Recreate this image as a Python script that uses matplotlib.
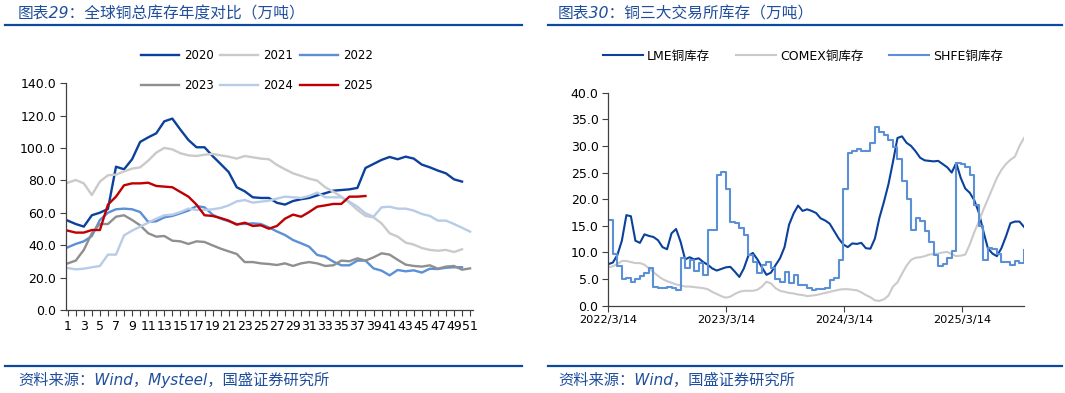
import matplotlib
matplotlib.use("Agg")
import matplotlib.pyplot as plt
from matplotlib.lines import Line2D
from matplotlib.ticker import FormatStrFormatter
import pandas as pd

plt.rcParams['font.family'] = ['DejaVu Sans', 'Noto Sans CJK SC']

# ---- chart 29 : stock total par semaine
weeks = list(range(1, 52))
y2020 = [55.2, 53.1, 51.5, 58.5, 60.1, 62.4, 88.5, 86.9, 93.1, 103.8, 106.6, 109.1, 116.5, 118.2, 111.4,
         105.0, 100.5, 100.5, 95.1, 90.2, 85.2, 75.8, 73.3, 69.6, 69.2, 69.2, 66.2, 65.1, 67.3, 68.4,
         69.2, 70.8, 72.1, 73.7, 74.1, 74.5, 75.4, 87.7, 90.2, 92.7, 94.5, 93.1, 94.7, 93.5, 89.8,
         88.1, 86.1, 84.4, 80.7, 79.3]
y2021 = [78.6, 80.3, 78.2, 71.0, 79.3, 83.2, 83.6, 85.6, 87.3, 88.1, 92.2, 97.2, 100.1, 99.2, 96.8,
         95.5, 95.1, 95.9, 96.4, 95.5, 94.7, 93.5, 95.1, 94.3, 93.5, 93.1, 89.6, 86.9, 84.4, 82.8,
         81.1, 79.9, 75.8, 73.1, 70.0, 66.3, 61.8, 58.1, 57.2, 53.5, 47.4, 45.3, 41.6, 40.4, 38.3,
         37.1, 36.6, 37.1, 35.8, 37.5]
y2022 = [38.7, 40.8, 42.4, 45.7, 55.6, 60.1, 62.2, 62.6, 62.2, 60.5, 54.4, 54.8, 57.2, 58.1, 59.7,
         61.4, 64.2, 63.4, 58.9, 56.4, 54.8, 53.1, 53.1, 53.5, 53.1, 51.0, 48.5, 46.3, 43.2, 41.2,
         39.1, 34.0, 32.9, 29.9, 27.6, 27.6, 30.5, 30.5, 25.7, 24.3, 21.4, 24.7, 23.9, 24.5, 23.1,
         25.5, 25.3, 26.1, 26.4, 26.4]
y2023 = [28.8, 30.5, 37.1, 47.4, 53.1, 53.1, 57.6, 58.5, 55.6, 52.3, 47.4, 45.3, 45.7, 42.8, 42.4,
         40.8, 42.4, 42.0, 39.9, 37.9, 36.2, 34.6, 29.6, 29.6, 28.8, 28.4, 27.8, 28.8, 27.2, 28.8,
         29.6, 28.8, 27.2, 27.6, 30.5, 30.1, 31.9, 30.5, 32.5, 35.0, 34.2, 31.0, 28.0, 27.2, 26.8,
         27.6, 25.5, 26.8, 27.2, 24.9, 25.7]
y2024 = [25.9, 25.1, 25.5, 26.4, 27.2, 34.2, 34.2, 46.1, 49.0, 51.5, 53.9, 56.4, 58.5, 58.9, 60.5,
         62.6, 61.8, 61.8, 62.2, 63.0, 64.6, 67.1, 67.9, 66.3, 66.9, 67.5, 68.8, 70.0, 69.6, 69.2,
         70.4, 72.5, 69.6, 69.6, 69.6, 66.9, 63.8, 59.7, 57.6, 63.4, 63.8, 62.6, 62.6, 61.4, 59.3,
         58.1, 55.2, 55.2, 53.1, 50.8, 48.4]
y2025 = [49.0, 47.8, 47.8, 49.4, 49.4, 65.1, 70.0, 77.0, 78.2, 78.2, 78.6, 76.6, 76.2, 75.8, 72.9,
         70.0, 65.1, 58.5, 58.1, 56.8, 55.2, 52.7, 53.9, 51.9, 52.3, 50.2, 51.9, 56.4, 58.9, 57.6,
         60.5, 63.8, 64.6, 65.5, 65.5, 70.0, 70.0, 70.4]

series29 = [("2020", y2020, "#0B419B"), ("2021", y2021, "#CACACA"), ("2022", y2022, "#5B8FD6"),
            ("2023", y2023, "#8F8F8F"), ("2024", y2024, "#B8CBE8"), ("2025", y2025, "#C00000")]

# ---- chart 30 : stocks des trois bourses (un point toutes les 2 semaines)
dates = pd.date_range("2022-03-14", periods=93, freq="14D")
lme = [7.8, 8.1, 9.5, 12.2, 17.0, 16.8, 12.2, 11.8, 13.4, 13.1,
       12.9, 12.3, 11.0, 10.6, 13.6, 14.4, 12.0, 8.7, 9.1, 8.7,
       8.9, 8.2, 7.7, 7.0, 6.6, 6.9, 7.2, 7.3, 6.4, 5.4,
       7.0, 9.4, 9.9, 8.7, 7.2, 5.8, 6.2, 7.6, 8.9, 11.0,
       15.2, 17.3, 18.8, 17.8, 18.1, 17.8, 17.4, 16.4, 16.0, 15.4,
       14.0, 12.6, 11.5, 11.0, 11.7, 11.6, 11.8, 10.8, 10.7, 12.6,
       16.5, 19.5, 22.8, 27.0, 31.5, 31.8, 30.6, 30.0, 29.0, 27.8,
       27.3, 27.2, 27.1, 27.2, 26.6, 26.0, 25.0, 26.8, 24.0, 22.0,
       21.2, 19.8, 17.5, 14.0, 10.8, 9.8, 9.3, 10.8, 13.0, 15.5,
       15.8, 15.8, 14.8]
comex = [7.2, 7.4, 7.8, 8.4, 8.4, 8.2, 8.0, 8.0, 7.7, 7.0,
         6.3, 5.6, 5.0, 4.6, 4.3, 4.0, 3.8, 3.6, 3.6, 3.5,
         3.4, 3.3, 3.1, 2.6, 2.2, 1.8, 1.5, 1.7, 2.2, 2.6,
         2.8, 2.8, 2.8, 3.0, 3.6, 4.5, 4.2, 3.3, 2.8, 2.6,
         2.4, 2.3, 2.1, 2.0, 1.8, 1.9, 2.0, 2.2, 2.4, 2.6,
         2.8, 3.0, 3.1, 3.1, 3.0, 2.9, 2.5, 2.0, 1.6, 1.0,
         0.9, 1.2, 1.9, 3.6, 4.4, 6.0, 7.5, 8.6, 9.0, 9.1,
         9.3, 9.6, 9.7, 9.8, 10.0, 10.1, 9.7, 9.3, 9.4, 9.6,
         11.5, 13.8, 15.8, 18.0, 20.0, 22.0, 24.0, 25.5, 26.6, 27.4,
         28.0, 30.0, 31.5]
shfe = [16.1, 9.8, 7.4, 5.0, 5.2, 4.4, 5.0, 5.5, 6.1, 7.1,
        3.6, 3.4, 3.3, 3.6, 3.4, 3.0, 9.0, 7.0, 8.5, 6.5,
        8.0, 5.8, 14.3, 14.3, 24.5, 25.2, 22.0, 15.8, 15.5, 14.6,
        13.3, 9.6, 8.3, 6.1, 7.7, 8.3, 7.0, 5.0, 4.5, 6.4,
        4.3, 5.8, 3.9, 3.8, 3.3, 3.0, 3.2, 3.2, 3.4, 4.8,
        5.2, 8.6, 22.0, 28.7, 29.0, 29.5, 29.0, 29.0, 30.5, 33.5,
        32.6, 32.0, 31.2, 29.8, 27.5, 23.5, 20.0, 14.3, 16.5, 16.0,
        14.0, 12.0, 9.6, 7.4, 7.8, 9.0, 10.2, 26.8, 26.7, 26.0,
        24.5, 19.0, 15.0, 8.5, 10.8, 10.6, 9.8, 8.3, 8.2, 7.6,
        8.4, 8.1, 10.5]
xtick_dates = ["2022-03-14", "2023-03-14", "2024-03-14", "2025-03-14"]

blue_txt = "#1F4E9C"
W, H = 1065, 393

fig = plt.figure(figsize=(W / 100, H / 100), dpi=100)


def hline(x0, x1, y):
    fig.add_artist(Line2D([x0 / W, x1 / W], [1 - y / H, 1 - y / H], color="#0B4A9E", lw=1.6))


def style_axis(ax):
    for s in ["top", "right"]:
        ax.spines[s].set_visible(False)
    for s in ["left", "bottom"]:
        ax.spines[s].set_color("#404040")
        ax.spines[s].set_linewidth(0.9)
    ax.tick_params(direction="out", length=4, width=0.8, color="#404040", labelsize=9, pad=3)
    ax.yaxis.set_major_formatter(FormatStrFormatter("%.1f"))


# titres et filets
fig.text(18 / W, 1 - 14 / H, "图表29：全球铜总库存年度对比（万吨）", color=blue_txt, fontsize=11.3,
         style="italic", va="center")
fig.text(558 / W, 1 - 14 / H, "图表30：铜三大交易所库存（万吨）", color=blue_txt, fontsize=11.3,
         style="italic", va="center")
hline(5, 522, 25)
hline(548, 1062, 25)
hline(5, 522, 366)
hline(548, 1062, 366)
fig.text(18 / W, 1 - 380 / H, "资料来源：Wind，Mysteel，国盛证券研究所", color=blue_txt, fontsize=11,
         style="italic", va="center")
fig.text(558 / W, 1 - 380 / H, "资料来源：Wind，国盛证券研究所", color=blue_txt, fontsize=11,
         style="italic", va="center")

# ---- gauche
ax1 = fig.add_axes([65.7 / W, 1 - 310 / H, (473.3 - 65.7) / W, (310 - 83.3) / H])
handles = {}
for name, vals, col in series29:
    h, = ax1.plot(weeks[:len(vals)], vals, color=col, lw=1.7, label=name)
    handles[name] = h
ax1.set_xlim(0.75, 51.4)
ax1.set_ylim(0, 140)
ax1.set_yticks(range(0, 141, 20))
ax1.set_xticks(weeks)
ax1.set_xticklabels([str(w) if w % 2 == 1 else "" for w in weeks])
style_axis(ax1)
order = ["2020", "2023", "2021", "2024", "2022", "2025"]
fig.legend([handles[n] for n in order], order, ncol=3, loc="center",
           bbox_to_anchor=(257 / W, 1 - 70.5 / H), frameon=False, fontsize=8.5,
           handlelength=3.2, handletextpad=0.45, columnspacing=0.55, labelspacing=1.45,
           borderpad=0, borderaxespad=0)

# ---- droite
ax2 = fig.add_axes([608.3 / W, 1 - 305.7 / H, (1024 - 608.3) / W, (305.7 - 92.7) / H])
l1, = ax2.plot(dates, lme, color="#0B419B", lw=1.5, label="LME铜库存")
l2, = ax2.plot(dates, comex, color="#CACACA", lw=1.5, label="COMEX铜库存")
l3, = ax2.plot(dates, shfe, color="#5B8FD6", lw=1.5, drawstyle="steps-post", label="SHFE铜库存")
ax2.set_xlim(dates[0], dates[-1])
ax2.set_ylim(0, 40)
ax2.set_yticks(range(0, 41, 5))
ax2.set_xticks(pd.to_datetime(xtick_dates))
ax2.set_xticklabels([d.strftime("%Y/") + str(d.month) + d.strftime("/%d") for d in pd.to_datetime(xtick_dates)])
style_axis(ax2)
ax2.tick_params(axis="x", labelsize=8.2)
fig.legend([l1, l2, l3], ["LME铜库存", "COMEX铜库存", "SHFE铜库存"], ncol=3, loc="center",
           bbox_to_anchor=(803 / W, 1 - 56 / H), frameon=False, fontsize=9,
           handlelength=3.2, handletextpad=0.3, columnspacing=2.1, borderpad=0, borderaxespad=0)

fig.savefig("out.png", dpi=100)
